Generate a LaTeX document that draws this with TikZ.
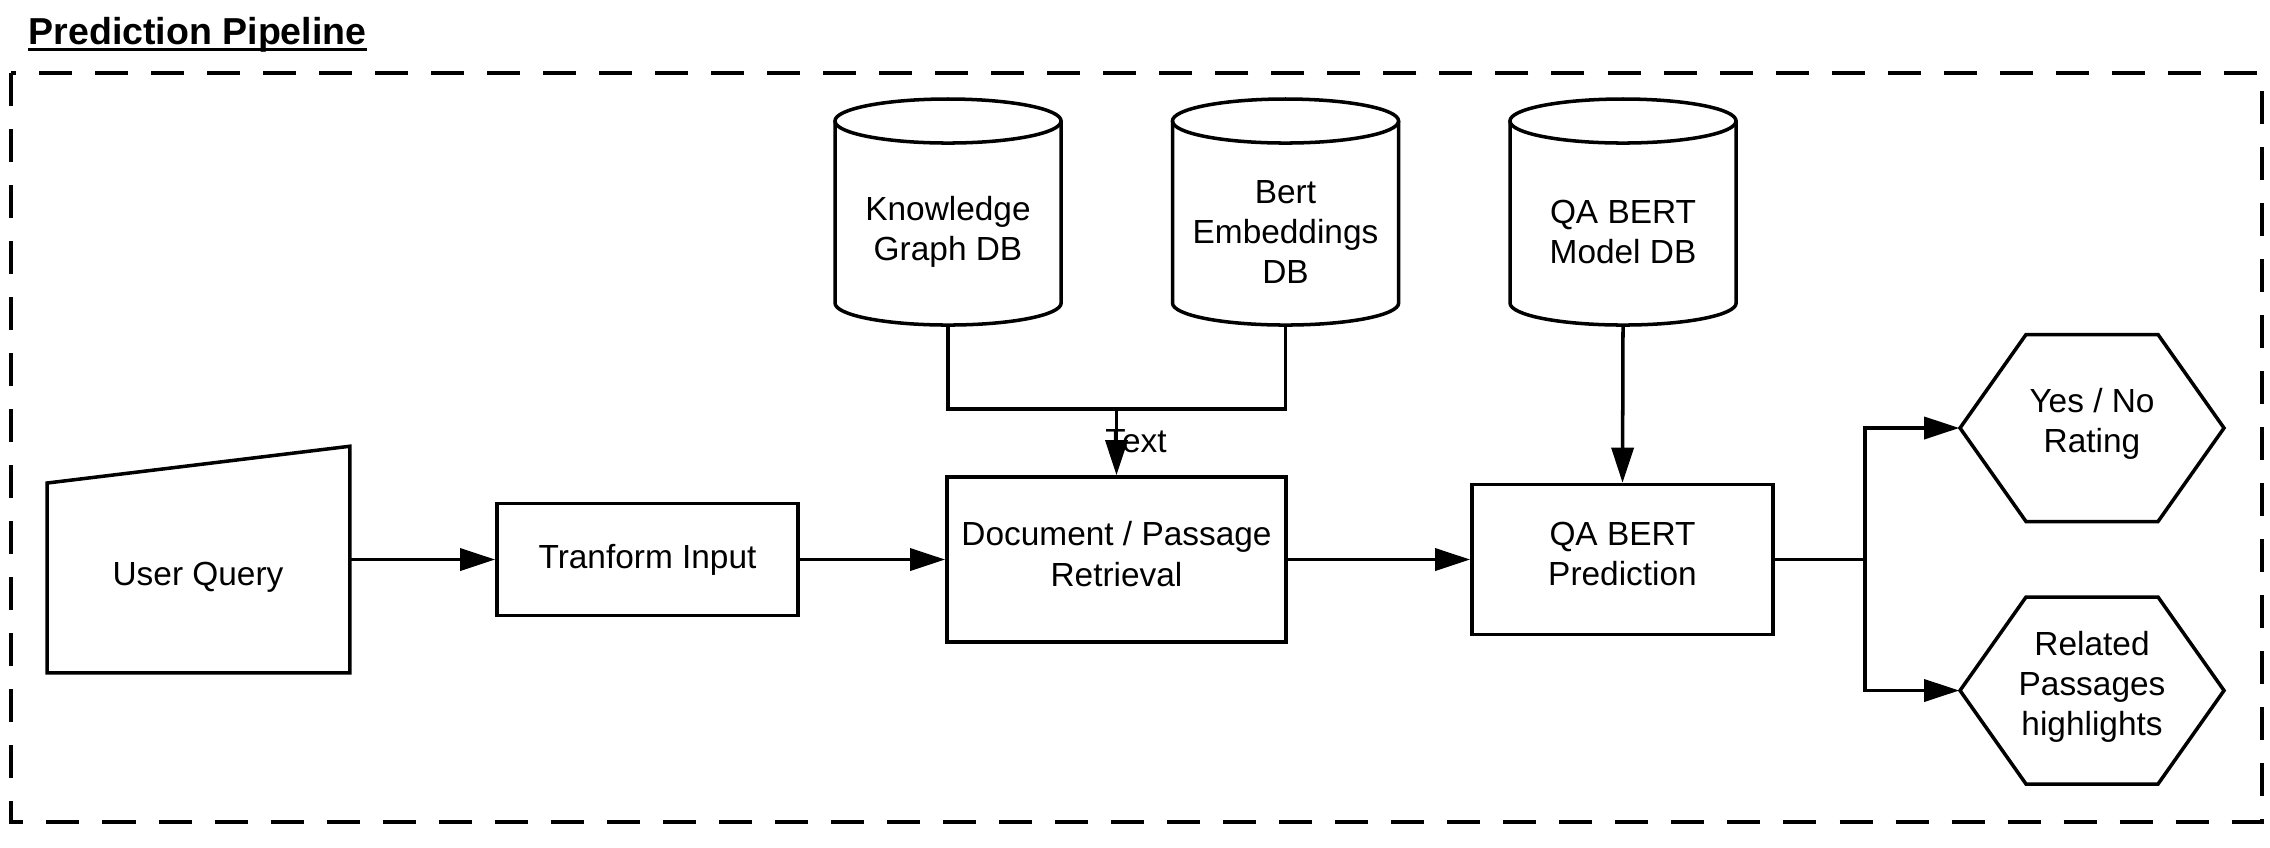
\documentclass[tikz,border=0pt]{standalone}
\usepackage{fontspec}
\setmainfont{Liberation Sans}
\usetikzlibrary{arrows.meta,calc}
\newcommand\dbcyl[3]{%
  \node[ghost, minimum width=2.26cm, minimum height=2.27cm] (#1) at (#2,212.5) {};
  \draw[edgeln] (#2-113,121) -- (#2-113,303) arc[start angle=180, end angle=360, x radius=1.13cm, y radius=0.22cm] -- (#2+113,121);
  \draw[edgeln] (#2,121) ellipse[x radius=1.13cm, y radius=0.22cm];
  \node[txt] (#1t) at (#2,232) {#3};
}
\newcommand\hexnode[4]{%
  \node[ghost, minimum width=2.64cm, minimum height=1.87cm] (#1) at (#2,#3) {};
  \draw[edgeln, line join=miter] (#2-132,#3) -- (#2-66,#3-93.5) -- (#2+66,#3-93.5) -- (#2+132,#3) -- (#2+66,#3+93.5) -- (#2-66,#3+93.5) -- cycle;
  \node[txt] (#1t) at (#2,#3-4) {#4};
}
\begin{document}
\begin{tikzpicture}[x=0.01cm,y=-0.01cm,
  edgeln/.style={line width=1pt,draw=black},
  arr/.style={edgeln,-{Triangle[length=0.35cm,width=0.22cm]}},
  txt/.style={font=\fontsize{9.5pt}{11.4pt}\selectfont, align=center, inner sep=0pt},
  box/.style={edgeln, rectangle, inner sep=0pt, align=center, font=\fontsize{9.5pt}{11.4pt}\selectfont},
  ghost/.style={rectangle, inner sep=0pt, draw=none},
]
\useasboundingbox (0,0) rectangle (2270,847);

% title
\node[inner sep=0pt, anchor=base west, font=\fontsize{10.67pt}{12pt}\selectfont\bfseries] (title) at (28,44) {Prediction Pipeline};
\draw[line width=0.85pt] ($(title.base west)+(0,5)$) -- ($(title.base east)+(0,5)$);

% frame
\draw[line width=1.1pt, dash pattern=on 0.33cm off 0.23cm] (11,73) rectangle (2262,822);

% user query (manual input)
\node[ghost, minimum width=3.01cm, minimum height=2.25cm] (uq) at (198.5,559.5) {};
\draw[edgeln] (uq.south west |- 0,483) -- (uq.north east) -- (uq.south east) -- (uq.south west) -- cycle;
\node[txt] (uqt) at (198,577) {User Query};

% boxes
\node[box, minimum width=3.01cm, minimum height=1.12cm] (ti) at (647.5,559.5) {Tranform Input};
\node[box, minimum width=3.39cm, minimum height=1.65cm] (dpr) at (1116.5,559.5) {};
\node[txt] (dprt) at (1116.5,554) {Document / Passage\\Retrieval};
\node[box, minimum width=3.01cm, minimum height=1.50cm] (pred) at (1622.5,559.5) {};
\node[txt] (predt) at (1622.5,554) {QA BERT\\Prediction};

% databases
\dbcyl{kg}{948}{Knowledge\\Graph DB}
\dbcyl{be}{1285.5}{Bert\\Embeddings\\DB}
\dbcyl{qa}{1623}{QA BERT\\Model DB}

% outputs
\hexnode{h1}{2092}{428}{Yes / No\\Rating}
\hexnode{h2}{2092}{690.5}{Related\\Passages\\highlights}

% connectors
\coordinate (j) at (1116.5,409);
\draw[edgeln] (kg.south) |- (j) -| (be.south);
\draw[arr] (j) -- (dpr.north);
\node[txt] (lbl) at (1136,441) {Text};

\draw[arr] (uq.east) -- (ti.west);
\draw[arr] (ti.east) -- (dpr.west);
\draw[arr] (dpr.east) -- (pred.west);
\draw[arr] (qa.south) -- (pred.north);

\coordinate (split) at (1865,559.5);
\draw[edgeln] (pred.east) -- (split);
\draw[arr] (split) |- (h1.west);
\draw[arr] (split) |- (h2.west);
\end{tikzpicture}
\end{document}
